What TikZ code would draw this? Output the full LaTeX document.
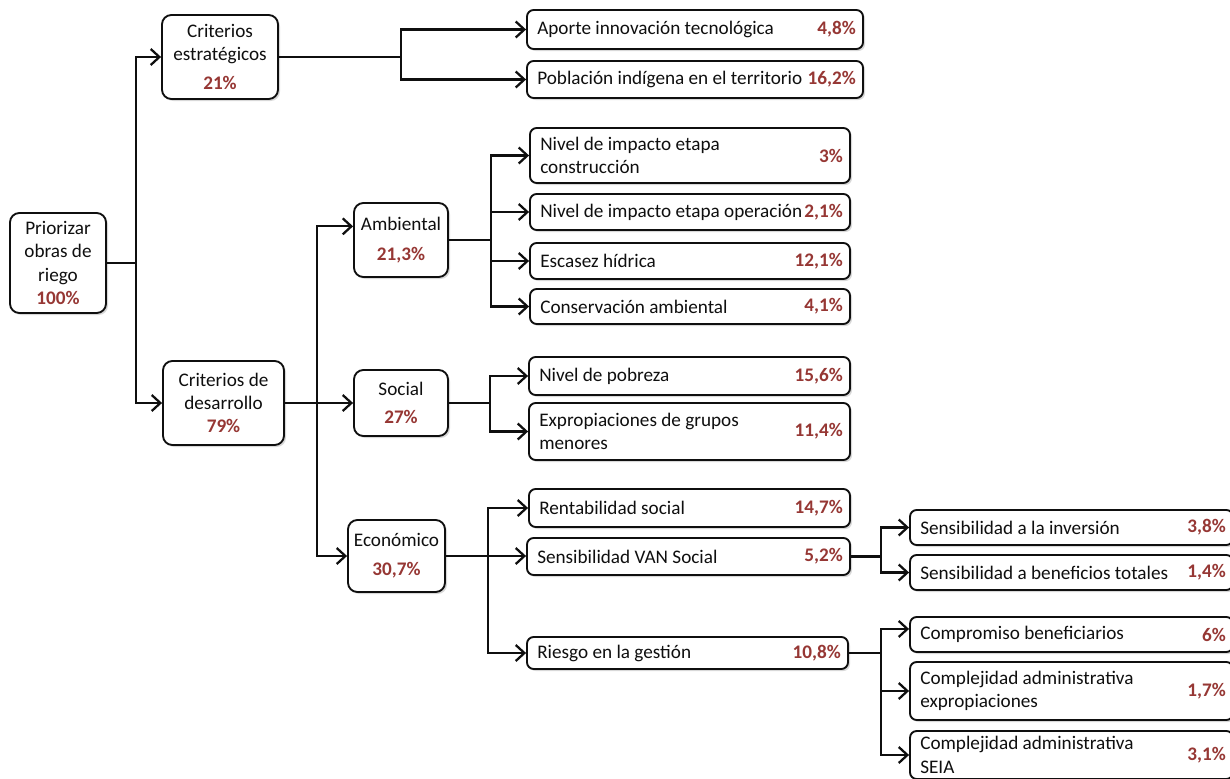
\documentclass[tikz,border=0pt]{standalone}
\usepackage{fontspec}
\setmainfont{Carlito}
\usetikzlibrary{arrows.meta,shadows,calc}
\definecolor{pctred}{RGB}{150,55,52}
\definecolor{ink}{RGB}{15,15,15}
\newcommand\pc[1]{{\color{pctred}\bfseries #1}}
\tikzset{
 every node/.style={font=\fontsize{14.4pt}{17.5pt}\selectfont, text=ink},
 ln/.style={line width=1.7pt, draw=ink},
 arr/.style={ln, -{Straight Barb[length=6.5pt,width=12pt]}},
 boxbase/.style={draw=ink, line width=1.4pt, fill=white, drop shadow={shadow xshift=1.5pt, shadow yshift=-1.5pt, opacity=0.3}},
 ibox/.style={boxbase, rounded corners=7pt, align=center, inner sep=0pt},
 lbox/.style={boxbase, rounded corners=5pt, inner sep=0pt},
 ltext/.style={align=left, inner sep=0pt, anchor=west},
 pct/.style={text=pctred, font=\fontsize{14.4pt}{17.5pt}\selectfont\bfseries, inner sep=0pt, anchor=east},
}
\newcommand\ibox[6]{\node[ibox, minimum width={(#4-#2)*0.75pt}, minimum height={(#5-#3)*0.75pt}] (#1) at ({(#2+#4)/2},{(#3+#5)/2}) {#6};}
\newcommand\leaf[7]{%
 \node[lbox, minimum width={(#4-#2)*0.75pt}, minimum height={(#5-#3)*0.75pt}] (#1) at ({(#2+#4)/2},{(#3+#5)/2}) {};
 \node[ltext] (#1t) at ({#2+10},{(#3+#5)/2}) {#6};
 \node[pct] (#1p) at ({#4-7},{(#3+#5)/2}) {#7};}
\begin{document}
\begin{tikzpicture}[x=0.75pt,y=-0.75pt]
\fill[white] (0,0) rectangle (1230,778);
\useasboundingbox (0,0) rectangle (1230,778);

\ibox{root}{10}{213}{106}{313}{Priorizar\\obras de\\riego\\\pc{100\%}}
\ibox{ce}{162}{15}{278}{99}{Criterios\\estratégicos\\[4pt]\pc{21\%}}
\ibox{cd}{163}{361}{284}{445}{Criterios de\\desarrollo\\\pc{79\%}}
\ibox{amb}{354}{203}{448}{277}{Ambiental\\[5pt]\pc{21,3\%}}
\ibox{soc}{354}{370}{448}{436}{Social\\[3pt]\pc{27\%}}
\ibox{eco}{348}{520}{445}{592}{Económico\\[4pt]\pc{30,7\%}}

\leaf{a1}{527}{10}{863}{49}{Aporte innovación tecnológica}{4,8\%}
\leaf{a2}{527}{61}{863}{98}{Población indígena en el territorio}{16,2\%}
\leaf{b1}{530}{128}{850}{183}{Nivel de impacto etapa\\construcción}{3\%}
\leaf{b2}{530}{194}{850}{230}{Nivel de impacto etapa operación}{2,1\%}
\leaf{b3}{530}{243}{850}{279}{Escasez hídrica}{12,1\%}
\leaf{b4}{530}{289}{850}{324}{Conservación ambiental}{4,1\%}
\leaf{c1}{529}{357}{850}{395}{Nivel de pobreza}{15,6\%}
\leaf{c2}{529}{403}{850}{460}{Expropiaciones de grupos\\menores}{11,4\%}
\leaf{d1}{529}{489}{850}{527}{Rentabilidad social}{14,7\%}
\leaf{d2}{527}{538}{850}{575}{Sensibilidad VAN Social}{5,2\%}
\leaf{d3}{527}{637}{848}{669}{Riesgo en la gestión}{10,8\%}
\leaf{e1}{910}{510}{1233}{545}{Sensibilidad a la inversión}{3,8\%}
\leaf{e2}{910}{555}{1233}{590}{Sensibilidad a beneficios totales}{1,4\%}
\leaf{f1}{910}{617}{1233}{652}{Compromiso beneficiarios}{6\%}
\leaf{f2}{910}{662}{1233}{720}{Complejidad administrativa\\expropiaciones}{1,7\%}
\leaf{f3}{910}{731}{1233}{779}{Complejidad administrativa\\SEIA}{3,1\%}

% connectors
\coordinate (j0) at ($(root.east)+(29,0)$);
\draw[ln] (root.east) -- (j0);
\draw[arr] (j0) |- (ce.west);
\draw[arr] (j0) |- (cd.west);

\coordinate (j1) at ($(ce.east)+(122,0)$);
\draw[ln] (ce.east) -- (j1);
\draw[arr] (j1) |- (a1.west);
\draw[arr] (j1) |- (a2.west);

\coordinate (j2) at ($(cd.east)+(32,0)$);
\draw[arr] (cd.east) -- (soc.west);
\draw[arr] (j2) |- ($(amb.north west)!0.32!(amb.south west)$);
\draw[arr] (j2) |- (eco.west);

\coordinate (j3) at ($(amb.east)+(42,0)$);
\draw[ln] (amb.east) -- (j3);
\draw[arr] (j3) |- (b1.west);
\draw[arr] (j3) |- (b2.west);
\draw[arr] (j3) |- (b3.west);
\draw[arr] (j3) |- (b4.west);

\coordinate (j4) at ($(soc.east)+(41,0)$);
\draw[ln] (soc.east) -- (j4);
\draw[arr] (j4) |- (c1.west);
\draw[arr] (j4) |- (c2.west);

\coordinate (j5) at ($(eco.east)+(42,0)$);
\draw[arr] (eco.east) -- (eco.east -| d2.west);
\draw[arr] (j5) |- (d1.west);
\draw[arr] (j5) |- (d3.west);

\coordinate (j6) at ($(d2.east)+(30,0)$);
\draw[ln] (d2.east) -- (j6);
\draw[arr] (j6) |- (e1.west);
\draw[arr] (j6) |- (e2.west);

\coordinate (j7) at ($(d3.east)+(32,0)$);
\draw[ln] (d3.east) -- (j7);
\draw[arr] (j7) |- ($(f1.north west)!0.35!(f1.south west)$);
\draw[arr] (j7) |- (f2.west);
\draw[arr] (j7) |- (f3.west);
\end{tikzpicture}
\end{document}
